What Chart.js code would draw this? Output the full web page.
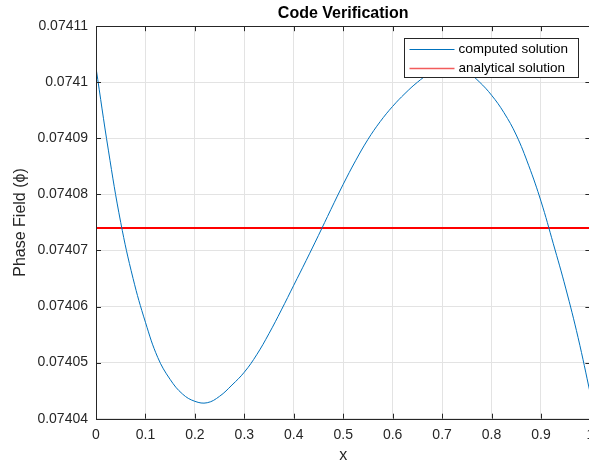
<!DOCTYPE html>
<html>
<head>
<meta charset="utf-8">
<script src="https://cdn.jsdelivr.net/npm/chart.js@4.4.0/dist/chart.umd.min.js"></script>
<style>
  html, body { margin: 0; padding: 0; overflow: hidden; background: #fff; }
  #wrap { width: 620px; height: 465px; }
</style>
</head>
<body>
<div id="wrap"><canvas id="phaseChart" width="620" height="465"></canvas></div>
<script>
// Data (tiap 0.025)
const xValues = [0, 0.025, 0.05, 0.075, 0.1, 0.125, 0.15, 0.175, 0.2, 0.225, 0.25, 0.275, 0.3, 0.325, 0.35,
  0.375, 0.4, 0.425, 0.45, 0.475, 0.5, 0.525, 0.55, 0.575, 0.6, 0.625, 0.65, 0.675, 0.7, 0.725, 0.75,
  0.775, 0.8, 0.825, 0.85, 0.875, 0.9, 0.925, 0.95, 0.975, 1];
const phiComputed = [0.0741026, 0.0740879, 0.074075, 0.074065, 0.0740572, 0.0740509, 0.074047, 0.0740444,
  0.0740431, 0.07404285, 0.074044, 0.074046, 0.0740483, 0.0740514, 0.0740552, 0.0740594, 0.0740638,
  0.0740682, 0.0740727, 0.0740773, 0.0740818, 0.074086, 0.0740898, 0.074093, 0.0740957, 0.074098,
  0.0741, 0.0741016, 0.0741026, 0.0741028, 0.0741019, 0.0741001, 0.0740977, 0.0740946, 0.0740906,
  0.0740852, 0.0740788, 0.0740712, 0.0740633, 0.0740545, 0.0740444];
const xAnalytical = [0, 1];
const phiAnalytical = [0.074074, 0.074074];

const xTicks = [0, 0.1, 0.2, 0.3, 0.4, 0.5, 0.6, 0.7, 0.8, 0.9, 1];
const yTicks = [0.07404, 0.07405, 0.07406, 0.07407, 0.07408, 0.07409, 0.0741, 0.07411];

const fontFamily = "'Liberation Sans', Arial, Helvetica, sans-serif";
const axisColor = "#262626";
const gridColor = "#e3e3e3";

// kotak sumbu + tick ke dalam (gaya MATLAB)
const boxPlugin = {
  id: "axesBox",
  afterDatasetsDraw(chart) {
    const { ctx, chartArea: a, scales } = chart;
    const tl = 5;
    ctx.save();
    ctx.strokeStyle = axisColor;
    ctx.lineWidth = 1;
    ctx.beginPath();
    xTicks.forEach((v) => {
      const px = Math.round(scales.x.getPixelForValue(v)) + 0.5;
      ctx.moveTo(px, a.bottom); ctx.lineTo(px, a.bottom - tl);
      ctx.moveTo(px, a.top); ctx.lineTo(px, a.top + tl);
    });
    yTicks.forEach((v) => {
      const py = Math.round(scales.y.getPixelForValue(v)) + 0.5;
      ctx.moveTo(a.left, py); ctx.lineTo(a.left + tl, py);
      ctx.moveTo(a.right, py); ctx.lineTo(a.right - tl, py);
    });
    ctx.stroke();
    ctx.beginPath();
    ctx.rect(Math.round(a.left) + 0.5, Math.round(a.top) + 0.5, a.right - a.left, Math.round(a.bottom - a.top));
    ctx.stroke();
    ctx.restore();
  },
};

// legenda dengan kotak di pojok kanan atas
const legendPlugin = {
  id: "boxLegend",
  afterDraw(chart) {
    const { ctx, chartArea: a } = chart;
    const w = 174, h = 39;
    const left = Math.round(a.right - 12 - w) + 0.5;
    const top = Math.round(a.top + 12) + 0.5;
    ctx.save();
    ctx.fillStyle = "#fff";
    ctx.fillRect(left, top, w, h);
    ctx.strokeStyle = axisColor;
    ctx.lineWidth = 1;
    ctx.strokeRect(left, top, w, h);
    const rows = chart.data.datasets;
    rows.forEach((ds, i) => {
      const y = top + 10.5 + i * 18.5;
      ctx.strokeStyle = i === 0 ? ds.borderColor : "#f25c5c";
      ctx.lineWidth = i === 0 ? 1 : 1.5;
      ctx.beginPath();
      ctx.moveTo(left + 5, Math.round(y) + 0.5);
      ctx.lineTo(left + 50, Math.round(y) + 0.5);
      ctx.stroke();
      ctx.fillStyle = "#000";
      ctx.font = "13.5px " + fontFamily;
      ctx.textBaseline = "middle";
      ctx.textAlign = "left";
      ctx.fillText(ds.label, left + 54, y + 0.5);
    });
    ctx.restore();
  },
};

const ctx = document.getElementById("phaseChart");

new Chart(ctx, {
  type: "line",
  data: {
    datasets: [
      {
        label: "computed solution",
        data: xValues.map((x, i) => ({ x: x, y: phiComputed[i] })),
        borderColor: "#0072bd",
        borderWidth: 1,
        pointRadius: 0,
        tension: 0.4,
      },
      {
        label: "analytical solution",
        data: xAnalytical.map((x, i) => ({ x: x, y: phiAnalytical[i] })),
        borderColor: "#ff0000",
        borderWidth: 2,
        pointRadius: 0,
      },
    ],
  },
  options: {
    responsive: false,
    animation: false,
    layout: { padding: { left: 0, right: 29.6, top: 0, bottom: 0 } },
    plugins: {
      legend: { display: false },
      tooltip: { enabled: false },
      title: {
        display: true,
        text: "Code Verification",
        fullSize: false,
        color: "#000",
        font: { family: fontFamily, size: 16, weight: "bold" },
        padding: { top: 4, bottom: 3 },
      },
    },
    scales: {
      x: {
        type: "linear",
        min: 0,
        max: 1,
        afterBuildTicks: (scale) => {
          scale.ticks = xTicks.map((v) => ({ value: v }));
        },
        afterFit: (scale) => {
          scale.height = 46.3;
        },
        grid: { color: gridColor, drawTicks: false },
        border: { display: false },
        ticks: {
          padding: 8,
          color: axisColor,
          font: { family: fontFamily, size: 14 },
          maxRotation: 0,
          callback: (v) => String(v),
        },
        title: {
          display: true,
          text: "x",
          color: axisColor,
          font: { family: fontFamily, size: 16 },
          padding: { top: 0, bottom: 0 },
        },
      },
      y: {
        type: "linear",
        min: 0.07404,
        max: 0.07411,
        afterBuildTicks: (scale) => {
          scale.ticks = yTicks.map((v) => ({ value: v }));
        },
        afterFit: (scale) => {
          scale.width = 96;
        },
        grid: { color: gridColor, drawTicks: false },
        border: { display: false },
        ticks: {
          padding: 8,
          color: axisColor,
          font: { family: fontFamily, size: 14 },
          callback: (v) => String(parseFloat(Number(v).toFixed(5))),
        },
        title: {
          display: true,
          text: "Phase Field (ϕ)",
          color: axisColor,
          font: { family: fontFamily, size: 16 },
          padding: { top: 11, bottom: 0 },
        },
      },
    },
  },
  plugins: [boxPlugin, legendPlugin],
});
</script>
</body>
</html>
